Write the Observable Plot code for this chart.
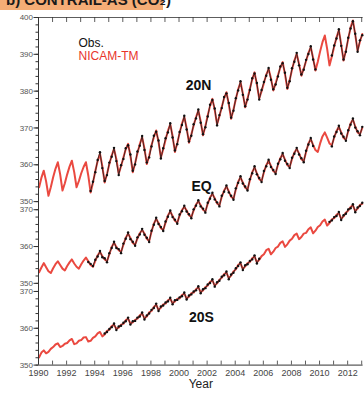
<!DOCTYPE html>
<html>
<head>
<meta charset="utf-8">
<script src="https://cdn.jsdelivr.net/npm/d3@7"></script>
<script src="https://cdn.jsdelivr.net/npm/@observablehq/plot@0.6"></script>
<style>
  html, body { margin: 0; padding: 0; background: #fff; }
  #wrap { position: relative; width: 364px; height: 394px; overflow: hidden; }
  #title { position: absolute; left: 0; top: -10px; width: 163px; height: 20px;
    background: #f5ad76; color: #1a1a1a; font: bold 15px "Liberation Sans", Arial, sans-serif;
    line-height: 20px; padding-left: 6px; box-sizing: border-box; white-space: nowrap; }
  #chart { position: absolute; left: 0; top: 0; }
</style>
</head>
<body>
<div id="wrap"><div id="chart"></div><div id="title">b) CONTRAIL-AS (CO₂)</div></div>
<script>
// ---- data (ppm), bimonthly samples: Jan, Mar, May, Jul, Sep, Nov ----
const modelStart = 1990 + 1/24;   // January 1990
const step = 1/6;
const regions = ["20N", "EQ", "20S"];
const yearTicks = d3.range(1990, 2014);
const yearLabels = d3.range(1990, 2013, 2);
const topAxisLabels = [350, 360, 370, 380, 390, 400];
const subAxisLabels = [350, 360, 370];

const model20N = [
353.9,356.5,358.4,355.5,351.6,353.9, 356.6,358.9,360.7,357.4,353.0,355.0,
357.4,359.5,361.1,358.0,353.9,355.6, 357.7,359.4,360.7,357.1,352.5,355.1,
358.3,361.0,363.0,359.6,355.2,357.5, 360.2,362.5,364.3,361.5,357.6,359.6,
362.0,364.2,365.7,362.4,358.0,360.4, 363.2,365.6,367.5,364.4,360.2,362.4,
365.3,367.5,369.3,366.2,362.0,364.2, 366.8,369.2,371.0,367.8,363.5,365.9,
368.6,371.2,373.0,370.0,366.0,368.2, 370.7,372.9,374.7,371.8,368.0,370.5,
373.4,376.0,377.9,374.9,371.0,373.2, 375.7,378.1,379.7,376.4,372.5,375.0,
377.8,380.5,382.4,379.4,375.6,378.0, 380.6,383.2,385.1,381.8,378.0,380.0,
382.2,384.5,386.0,383.5,380.2,382.1, 384.3,386.4,387.9,384.6,380.6,383.0,
385.9,388.3,390.1,387.4,384.2,386.1, 388.2,390.4,391.9,389.0,385.6,388.0,
390.8,393.3,395.1,391.5,387.0,389.4, 392.1,394.6,396.5,392.7,388.3,391.0,
394.2,397.3,399.2,395.3,391.0,393.5, 395.5];

const obs20NStart = 1993 + 17/24;  // Sep 1993
const obs20N = [
352.9,355.4,
358.0,361.3,363.4,359.1,355.6,357.2, 360.6,362.2,364.6,361.0,357.2,359.9,
361.6,364.5,365.3,362.8,358.4,360.1, 363.6,365.2,367.8,364.0,360.6,362.0,
365.0,367.9,369.0,366.6,361.7,364.5, 367.2,368.8,371.3,367.4,363.9,365.6,
368.9,370.8,373.3,369.6,366.3,367.9, 371.0,372.6,375.0,371.4,368.3,370.2,
373.1,376.3,377.6,375.3,370.7,373.5, 375.4,378.4,379.4,376.8,372.8,374.7,
378.1,380.2,382.7,379.0,375.9,377.7, 380.3,383.5,384.8,382.2,377.7,380.3,
382.5,384.2,386.3,383.1,380.5,381.8, 384.0,386.7,387.6,385.0,380.9,382.7,
386.2,388.0,390.4,387.0,384.5,385.8, 388.5,390.1,392.2,388.6,385.9,null,
null,null,null,null,null,389.7, 392.4,394.3,396.8,392.3,388.6,390.7,
394.5,397.0,399.0,395.6,390.7,393.8, 395.2];

const modelEQ = [
353.0,354.3,355.5,354.4,353.3,352.8, 354.1,355.2,356.0,355.0,354.0,353.5,
354.7,355.7,356.5,355.4,354.5,354.0, 355.2,356.2,357.0,356.0,355.0,354.5,
356.1,357.6,358.5,357.4,356.5,356.0, 357.9,359.9,361.0,359.9,359.0,358.5,
360.5,362.4,363.5,362.3,361.0,360.5, 362.2,363.6,364.5,363.5,362.1,361.5,
364.0,366.2,367.5,366.4,365.0,364.5, 366.5,368.4,369.5,368.3,367.0,366.5,
368.4,369.9,370.8,369.8,368.5,368.0, 369.8,371.4,372.3,371.2,370.0,369.5,
371.6,373.3,374.3,373.1,371.7,371.2, 373.5,375.2,376.3,375.0,373.5,373.0,
375.5,377.6,378.8,377.4,376.0,375.5, 378.0,380.2,381.5,379.9,378.3,377.8,
380.2,382.1,383.3,381.9,380.5,380.0, 382.2,384.0,385.1,383.6,382.1,381.6,
383.8,385.5,386.5,385.3,383.7,383.2, 385.7,388.0,389.2,387.6,386.2,385.7,
388.0,389.9,391.0,389.6,388.0,387.5, 389.6,391.4,392.5,391.0,389.5,389.0,
391.3,393.4,394.5,392.6,391.0,390.5, 392.2];

const obsEQStart = 1993 + 13/24;  // Jul 1993
const obsEQ = [
355.8,355.3,354.7,
356.4,357.3,358.8,357.1,356.8,355.7, 358.2,359.6,361.3,359.6,359.3,358.2,
360.8,362.1,363.8,362.0,361.3,360.2, 362.5,363.3,364.8,363.2,362.4,361.2,
364.3,365.9,367.8,366.1,365.3,364.2, 366.8,368.1,369.8,368.0,367.3,366.2,
368.7,369.6,371.1,369.5,368.8,367.7, 370.1,371.1,372.6,370.9,370.3,369.2,
371.9,373.0,374.6,372.8,372.0,370.9, 373.8,374.9,376.6,374.7,373.8,372.7,
375.8,377.3,379.1,377.1,376.3,375.2, 378.3,379.9,381.8,379.6,378.6,377.5,
380.5,381.8,383.6,381.6,380.8,379.7, 382.5,383.7,385.4,383.3,382.4,381.3,
384.1,385.2,386.8,385.0,384.0,382.9, 386.0,387.7,389.5,387.3,null,null,
null,null,null,null,null,387.2, 389.9,391.1,392.8,390.7,389.8,388.7,
391.6,393.1,394.8,392.3,391.3,390.2, 392.5];

const model20S = [
352.1,353.4,354.0,353.2,353.6,354.4, 354.9,355.6,355.9,354.9,355.2,355.8,
356.0,356.7,357.1,355.7,355.9,356.6, 356.8,357.5,357.6,356.4,356.6,357.4,
357.8,358.6,359.0,357.8,358.3,359.3, 359.6,360.6,361.0,359.8,360.2,361.0,
361.2,362.2,362.6,361.3,361.6,362.3, 362.6,363.5,364.0,362.7,363.2,364.3,
364.7,365.8,366.4,365.0,365.6,366.5, 366.7,367.6,368.0,366.8,367.3,368.0,
368.1,369.0,369.4,368.1,368.6,369.5, 369.7,370.6,371.1,369.8,370.3,371.2,
371.6,372.6,373.0,371.6,372.2,373.2, 373.7,374.7,375.1,373.6,374.3,375.4,
376.0,377.2,377.6,376.1,376.8,377.7, 378.0,379.0,379.5,377.9,378.6,379.6,
380.1,381.2,381.6,380.1,380.8,381.8, 382.2,383.2,383.6,382.1,382.8,383.8,
384.3,385.3,385.7,384.2,384.8,385.7, 385.9,386.9,387.4,385.8,386.5,387.5,
388.0,389.0,389.5,387.9,388.6,389.6, 389.9,390.8,391.3,389.7,390.4,391.4,
392.0,392.9,393.4,391.8,392.5,393.5, 393.8];

const obs20SStart = 1994 + 17/24;  // Sep 1994
const obs20S = [
358.6,359.0,
359.8,360.3,361.3,359.5,360.5,360.7, 361.5,361.9,362.9,361.0,361.9,362.0,
362.9,363.2,364.3,362.4,363.5,364.0, 365.0,365.5,366.7,364.7,365.9,366.2,
367.0,367.3,368.3,366.5,367.6,367.7, 368.4,368.7,369.7,367.8,368.9,369.2,
370.0,370.3,371.4,369.5,370.6,370.9, 371.9,372.3,373.3,371.3,372.5,372.9,
374.0,374.4,375.4,373.3,374.6,375.1, 376.3,376.9,377.9,375.8,377.1,377.4,
378.3,378.7,379.8,377.6,378.9,null,
null,null,null,null,null,null, null,null,null,null,null,null,
null,null,null,null,null,null, null,null,null,null,null,null,
null,null,null,null,388.9,389.3, 390.2,390.5,391.6,389.4,390.7,391.1,
392.3,392.6,393.7,391.5,392.8,393.2, 394.1];

// ---- layout: the three bands share one ppm scale, lower bands shifted down ----
const shift = {"20N": 0, "EQ": 22.2, "20S": 44.4};
const yMin = 305.6, yMax = 400, xMin = 1990, xMax = 2013.1;
const mTop = 17, mBottom = 29.4, H = 394;
const ppx = (H - mTop - mBottom) / (yMax - yMin);

const toRows = (vals, start, region) =>
  vals.map((v, i) => ({t: start + i * step, v, region,
    y: v == null ? null : v - shift[region]}));

const modelRows = [
  ...toRows(model20N, modelStart, "20N"),
  ...toRows(modelEQ, modelStart, "EQ"),
  ...toRows(model20S, modelStart, "20S")];
const obsRows = [
  ...toRows(obs20N, obs20NStart, "20N"),
  ...toRows(obsEQ, obsEQStart, "EQ"),
  ...toRows(obs20S, obs20SStart, "20S")];

// y-axis ticks (display position -> printed value)
const labelMap = new Map();
const major = [], minor = [];
topAxisLabels.forEach(v => { major.push(v); labelMap.set(v, String(v)); });
["EQ", "20S"].forEach(r => subAxisLabels.forEach(v => {
  const d = v - shift[r]; major.push(d); labelMap.set(d, String(v)); }));
for (let v = 350; v <= 400; v += 2) minor.push(v);
["EQ", "20S"].forEach(r => { for (let v = 350; v <= 370; v += 2) minor.push(v - shift[r]); });

const ink = "#333";
const red = "#e8352b";
const chart = Plot.plot({
  width: 364, height: H,
  marginLeft: 38, marginRight: 1.4, marginTop: mTop, marginBottom: mBottom,
  style: {fontFamily: "'Liberation Sans', Arial, sans-serif", background: "transparent", overflow: "visible"},
  x: {domain: [xMin, xMax]},
  y: {domain: [yMin, yMax]},
  marks: [
    Plot.line(modelRows, {x: "t", y: "y", z: "region", stroke: red, strokeWidth: 2, strokeOpacity: 0.9}),
    Plot.line(obsRows, {x: "t", y: "y", z: "region", stroke: "#1a1a1a", strokeWidth: 0.8}),
    Plot.dot(obsRows.filter(d => d.v != null), {x: "t", y: "y", r: 1.2, fill: "#111", stroke: "none"}),
    // frame
    Plot.ruleX([xMin], {stroke: ink, strokeWidth: 1}),
    Plot.ruleY([yMax], {stroke: ink, strokeWidth: 0.8}),
    Plot.ruleY([yMin], {stroke: ink, strokeWidth: 1}),
    // inward year ticks (bottom and top)
    Plot.ruleX(yearTicks, {x: d => d, y1: yMin, y2: yMin + 4 / ppx, stroke: ink, strokeWidth: 0.8}),
    Plot.ruleX(yearTicks, {x: d => d, y1: yMax - 5 / ppx, y2: yMax, stroke: ink, strokeWidth: 0.8}),
    Plot.axisX(yearLabels, {anchor: "bottom", tickSize: 0, tickPadding: 4.5, fontSize: 9, fill: "#444",
      tickFormat: d => String(d), label: null}),
    // outward y ticks
    Plot.axisY(minor, {anchor: "left", tickSize: 2.5, tickFormat: () => "", stroke: ink, label: null}),
    Plot.axisY(major, {anchor: "left", tickSize: 4.5, tickPadding: 1, fontSize: 8, fill: "#555", stroke: ink,
      tickFormat: d => labelMap.get(d), label: null}),
    // labels
    Plot.text(["Year"], {frameAnchor: "bottom", dy: 23, fontSize: 12, fill: "#222"}),
    Plot.text(["20N"], {frameAnchor: "top-left", dx: 160, dy: 63, fontSize: 14, fontWeight: "bold", fill: "#111", textAnchor: "middle"}),
    Plot.text(["EQ"], {frameAnchor: "top-left", dx: 163, dy: 164, fontSize: 14, fontWeight: "bold", fill: "#111", textAnchor: "middle"}),
    Plot.text(["20S"], {frameAnchor: "top-left", dx: 163, dy: 295, fontSize: 14, fontWeight: "bold", fill: "#111", textAnchor: "middle"}),
    Plot.text(["Obs."], {frameAnchor: "top-left", dx: 40, dy: 21, fontSize: 12, fill: "#111", textAnchor: "start"}),
    Plot.text(["NICAM-TM"], {frameAnchor: "top-left", dx: 40, dy: 33.5, fontSize: 12, fill: red, textAnchor: "start"})
  ]
});
document.getElementById("chart").appendChild(chart);
</script>
</body>
</html>
